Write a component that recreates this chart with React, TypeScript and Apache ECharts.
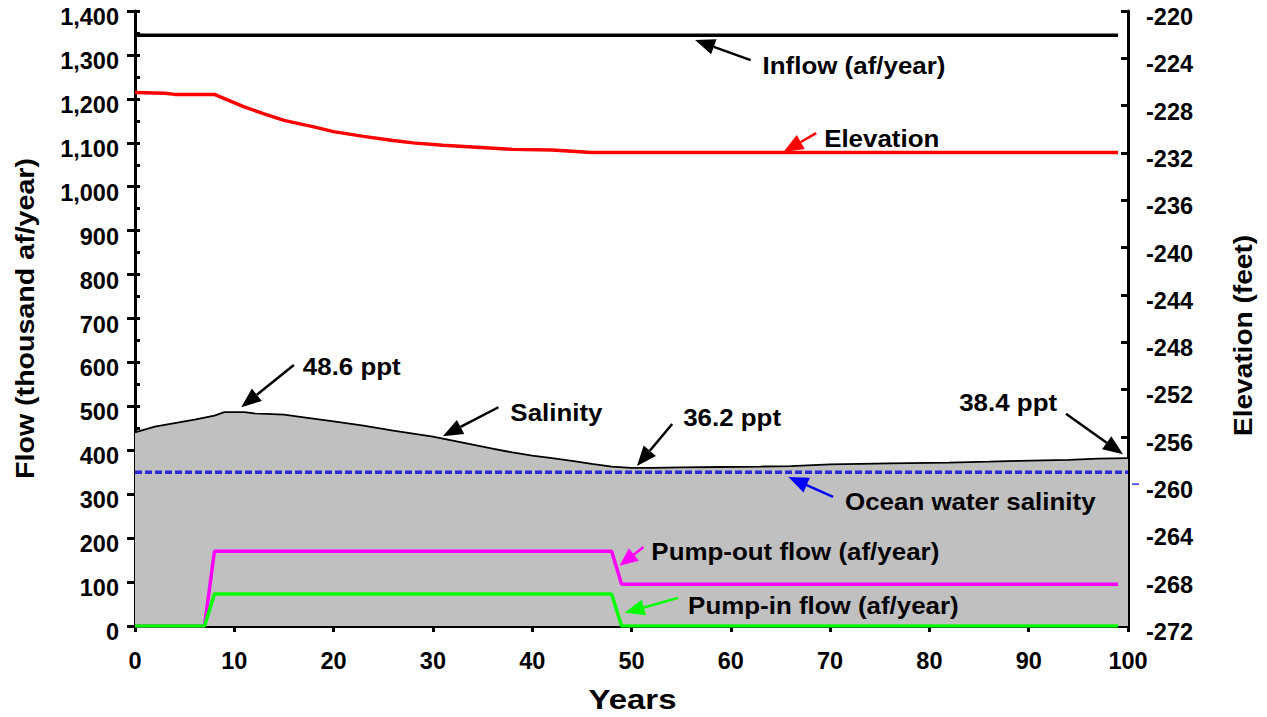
import React, { useEffect, useRef } from "react";
import * as echarts from "echarts";

// ---- Data ----
const salinityYears = [0, 2, 4, 6, 8, 9, 11, 12, 15, 17, 20, 23, 26, 28, 30, 32, 34, 36, 38, 40, 42, 44, 46, 48, 50, 52, 55, 59, 63, 66, 70, 76, 82, 86, 89, 94, 97, 100];
// salinity in ppt x 10, plotted on the flow axis
const salinityValues = [441, 454, 462, 470, 479, 487, 487, 484, 481, 475, 466, 456, 445, 438, 431, 422, 413, 404, 395, 388, 382, 376, 369, 363, 360, 360, 361, 362, 363, 364, 368, 370, 372, 374, 376, 378, 381, 382];

const oceanYears = [0, 100];
const oceanValues = [350, 350];

const inflowYears = [0, 99];
const inflowValues = [1345, 1345];

const pumpOutYears = [0, 7, 8, 48, 49, 99];
const pumpOutValues = [0, 0, 170, 170, 95, 95];

const pumpInYears = [0, 7, 8, 48, 49, 99];
const pumpInValues = [0, 0, 73, 73, 0, 0];

const elevYears = [0, 3, 4, 8, 9, 11, 13, 15, 18, 20, 23, 26, 28, 31, 34, 38, 42, 44, 46, 99];
const elevValues = [-226.9, -226.95, -227.05, -227.05, -227.4, -228.1, -228.7, -229.25, -229.8, -230.2, -230.6, -230.95, -231.15, -231.35, -231.5, -231.7, -231.75, -231.85, -231.97, -231.97];

const xTicks = { min: 0, max: 100, interval: 10 };
const flowTicks = { min: 0, max: 1400, interval: 100 };
const elevTicks = { min: -272, max: -220, interval: 4 };

// annotations: label, arrow tip, arrow tail, text anchor — in data units (flow axis)
const annLabels = ["Inflow (af/year)", "Elevation", "48.6 ppt", "Salinity", "36.2 ppt", "38.4 ppt", "Ocean water salinity", "Pump-out flow (af/year)", "Pump-in flow (af/year)"];
const annTips = [[56.4, 1334], [65.3, 1079], [10.7, 498], [31.0, 432], [50.55, 364], [99.5, 391], [65.8, 339], [48.8, 137], [49.3, 30]];
const annTails = [[62.0, 1288], [68.6, 1122], [16.0, 594], [36.6, 498], [54.1, 460], [93.75, 483], [70.3, 294], [51.2, 180], [54.7, 64]];
const annText = [[63.2, 1277], [69.4, 1111], [16.9, 590], [37.8, 487], [55.2, 476], [83.0, 510], [71.5, 284], [52.0, 171], [55.7, 48]];
const annColors = ["#000000", "#ff0000", "#000000", "#000000", "#000000", "#000000", "#0000ff", "#ff00ff", "#00ff00"];

const zip = (xs: number[], ys: number[]) => xs.map((x, i) => [x, ys[i]]);

const FONT = "Liberation Sans, Arial, sans-serif";

export default function App() {
  const ref = useRef<HTMLDivElement>(null);
  useEffect(() => {
    if (!ref.current) return;
    const chart = echarts.init(ref.current, undefined, { renderer: "svg" });
    const labelStyle = { color: "#000", fontFamily: FONT, fontWeight: "bold" as const, fontSize: 23.5 };
    const option: any = {
      animation: false,
      backgroundColor: "#fff",
      grid: { left: 135, right: 139, top: 11, bottom: 91, outerBoundsMode: "none", containLabel: false },
      xAxis: {
        type: "value",
        min: xTicks.min,
        max: xTicks.max,
        interval: xTicks.interval,
        axisLine: { lineStyle: { color: "#000", width: 3 } },
        axisTick: { length: 6, lineStyle: { color: "#000", width: 3 } },
        axisLabel: { ...labelStyle, margin: 23 },
        splitLine: { show: false },
      },
      yAxis: [
        {
          type: "value",
          position: "left",
          min: flowTicks.min,
          max: flowTicks.max,
          interval: flowTicks.interval,
          axisLine: { show: true, lineStyle: { color: "#000", width: 3 } },
          axisTick: { show: true, length: 8, lineStyle: { color: "#000", width: 3 } },
          axisLabel: { ...labelStyle, margin: 16, verticalAlign: "top", lineHeight: 12, formatter: (v: number) => v.toLocaleString("en-US") },
          splitLine: { show: false },
        },
        {
          type: "value",
          position: "right",
          min: elevTicks.min,
          max: elevTicks.max,
          interval: elevTicks.interval,
          axisLine: { show: true, lineStyle: { color: "#000", width: 3 } },
          axisTick: { show: true, inside: true, length: 7, lineStyle: { color: "#000", width: 3 } },
          axisLabel: { ...labelStyle, margin: 18, verticalAlign: "top", lineHeight: 12 },
          splitLine: { show: false },
        },
        {
          type: "value",
          position: "left",
          min: flowTicks.min,
          max: flowTicks.max,
          interval: flowTicks.interval,
          axisLine: { show: false },
          axisTick: { show: true, inside: true, length: 5, lineStyle: { color: "#000", width: 3 } },
          minorTick: { show: true, splitNumber: 2, length: 5, lineStyle: { color: "#000", width: 3 } },
          axisLabel: { show: false },
          splitLine: { show: false },
        },
      ],
      series: [
        {
          type: "line",
          name: "Salinity",
          data: zip(salinityYears, salinityValues),
          yAxisIndex: 0,
          symbol: "none",
          lineStyle: { color: "#000", width: 1.8 },
          areaStyle: { color: "#c0c0c0", opacity: 1 },
          z: 1,
        },
        {
          type: "line",
          name: "Ocean water salinity",
          data: zip(oceanYears, oceanValues),
          yAxisIndex: 0,
          symbol: "none",
          lineStyle: { color: "#2a2ad8", width: 3.5, type: [7, 3] },
          z: 2,
        },
        {
          type: "line",
          name: "Pump-out flow",
          data: zip(pumpOutYears, pumpOutValues),
          yAxisIndex: 0,
          symbol: "none",
          lineStyle: { color: "#ff00ff", width: 3.5 },
          z: 3,
        },
        {
          type: "line",
          name: "Pump-in flow",
          data: zip(pumpInYears, pumpInValues),
          yAxisIndex: 0,
          symbol: "none",
          lineStyle: { color: "#00ff00", width: 3.5 },
          z: 4,
        },
        {
          type: "line",
          name: "Inflow",
          data: zip(inflowYears, inflowValues),
          yAxisIndex: 0,
          symbol: "none",
          lineStyle: { color: "#000", width: 3.5 },
          z: 5,
        },
        {
          type: "line",
          name: "Elevation",
          data: zip(elevYears, elevValues),
          yAxisIndex: 1,
          symbol: "none",
          lineStyle: { color: "#ff0000", width: 3.5 },
          z: 6,
        },
      ],
    };
    chart.setOption(option);

    const px = (p: number[]) => chart.convertToPixel({ xAxisIndex: 0, yAxisIndex: 0 }, p) as number[];
    const graphics: any[] = [];
    annLabels.forEach((label, i) => {
      const tip = px(annTips[i]);
      const tail = px(annTails[i]);
      const tp = px(annText[i]);
      const dx = tip[0] - tail[0];
      const dy = tip[1] - tail[1];
      const len = Math.hypot(dx, dy);
      const ux = dx / len;
      const uy = dy / len;
      const headLen = Math.min(20, len * 0.6);
      const half = 8;
      const bx = tip[0] - ux * headLen;
      const by = tip[1] - uy * headLen;
      const color = annColors[i];
      graphics.push({
        type: "line",
        shape: { x1: tail[0], y1: tail[1], x2: bx, y2: by },
        style: { stroke: color, lineWidth: 2.5 },
        z: 100,
      });
      graphics.push({
        type: "polygon",
        shape: {
          points: [
            [tip[0], tip[1]],
            [bx - uy * half, by + ux * half],
            [bx + uy * half, by - ux * half],
          ],
        },
        style: { fill: color },
        z: 100,
      });
      graphics.push({
        type: "text",
        x: tp[0],
        y: tp[1],
        scaleX: 1.08,
        style: {
          text: label,
          fill: "#000",
          font: `bold 24px ${FONT}`,
          textAlign: "left",
          textVerticalAlign: "middle",
        },
        z: 101,
      });
    });
    // stray ocean-salinity marker outside the right axis
    const m = px([100, 323]);
    graphics.push({
      type: "line",
      shape: { x1: m[0] + 4, y1: m[1], x2: m[0] + 11, y2: m[1] },
      style: { stroke: "#3030e0", lineWidth: 1.5 },
    });
    // axis titles
    const g0 = px([0, 0]);
    const g1 = px([100, 1400]);
    graphics.push({
      type: "text",
      x: g0[0] - 110,
      y: (g0[1] + g1[1]) / 2,
      rotation: Math.PI / 2,
      scaleX: 1.1,
      style: { text: "Flow (thousand af/year)", fill: "#000", font: `bold 26px ${FONT}`, textAlign: "center", textVerticalAlign: "middle" },
    });
    graphics.push({
      type: "text",
      x: g1[0] + 115,
      y: (g0[1] + g1[1]) / 2 + 17,
      rotation: Math.PI / 2,
      scaleX: 1.08,
      style: { text: "Elevation (feet)", fill: "#000", font: `bold 26px ${FONT}`, textAlign: "center", textVerticalAlign: "middle" },
    });
    graphics.push({
      type: "text",
      x: (g0[0] + g1[0]) / 2 + 1,
      y: g0[1] + 74,
      scaleX: 1.22,
      style: { text: "Years", fill: "#000", font: `bold 27px ${FONT}`, textAlign: "center", textVerticalAlign: "middle" },
    });
    chart.setOption({ graphic: { elements: graphics } });

    return () => chart.dispose();
  }, []);
  return <div ref={ref} style={{ position: "absolute", left: 0, top: 0, width: 1267, height: 717 }} />;
}
